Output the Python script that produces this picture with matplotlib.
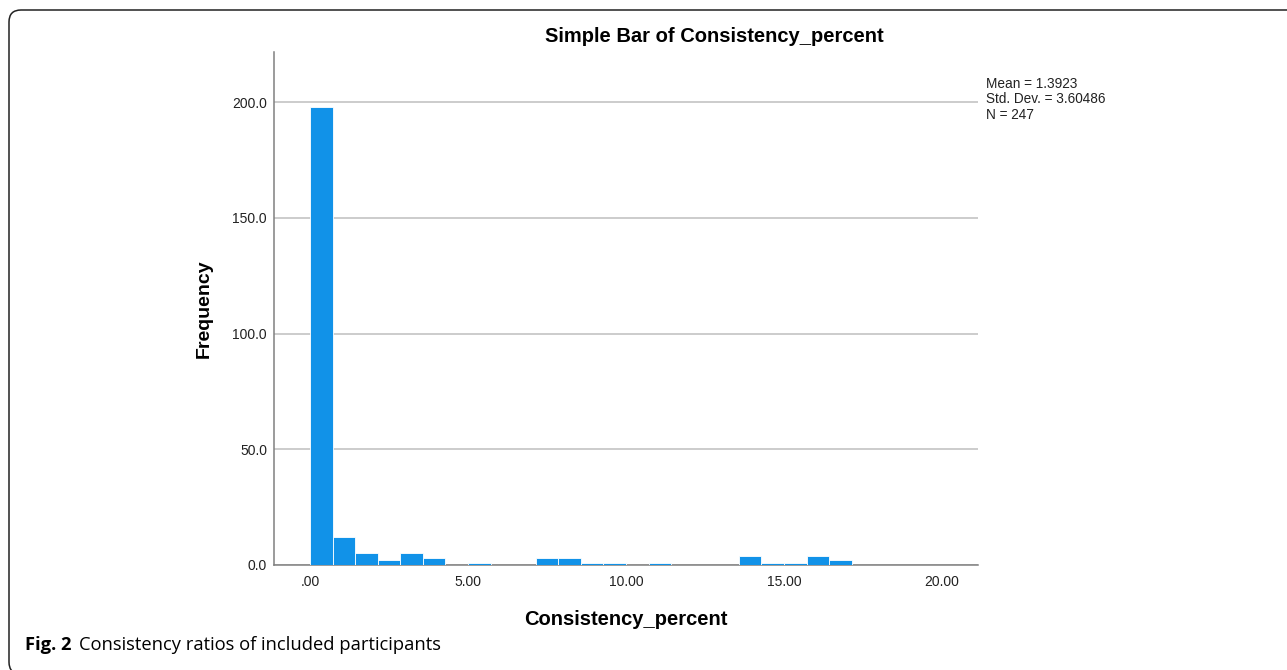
import matplotlib.pyplot as plt
from matplotlib.patches import FancyBboxPatch
from matplotlib.transforms import IdentityTransform

# histogram bins (SPSS binned Consistency_percent, width 5/7)
bin_width = 5 / 7
bin_index = [0, 1, 2, 3, 4, 5, 7, 10, 11, 12, 13, 15, 19, 20, 21, 22, 23]
counts = [198, 12, 5, 2, 5, 3, 1, 3, 3, 1, 1, 1, 4, 1, 1, 4, 2]
x_ticks = [0, 5, 10, 15, 20]
x_tick_labels = [".00", "5.00", "10.00", "15.00", "20.00"]
y_ticks = [0, 50, 100, 150, 200]
y_tick_labels = ["0.0", "50.0", "100.0", "150.0", "200.0"]
stats_text = "Mean = 1.3923\nStd. Dev. = 3.60486\nN = 247"

plt.rcParams["font.family"] = ["Liberation Sans", "DejaVu Sans"]

W, H = 1287, 670
fig = plt.figure(figsize=(W / 100, H / 100), dpi=100)
ax = fig.add_axes([274 / W, 1 - 565 / H, (978 - 274) / W, (565 - 52) / H])

lefts = [k * bin_width for k in bin_index]
ax.bar(lefts, counts, width=bin_width, align="edge", color="#1192e8",
       edgecolor="white", linewidth=0.6, zorder=3)

ax.set_xlim(-1.14, 21.14)
ax.set_ylim(0, 221.6)
ax.set_xticks(x_ticks, x_tick_labels)
ax.set_yticks(y_ticks, y_tick_labels)
ax.tick_params(axis="both", length=0, labelsize=10, colors="#222222")
ax.tick_params(axis="x", pad=7)
ax.tick_params(axis="y", pad=5)
ax.grid(axis="y", color="#c4c4c4", linewidth=1.2, zorder=0)
for s in ["top", "right"]:
    ax.spines[s].set_visible(False)
for s in ["left", "bottom"]:
    ax.spines[s].set_color("#808080")
    ax.spines[s].set_linewidth(1.1)
    ax.spines[s].set_zorder(2)

ax.set_xlabel("Consistency_percent", fontsize=14.5, fontweight="bold", labelpad=15)
ax.set_ylabel("Frequency", fontsize=14, fontweight="bold", labelpad=14)

fig.text(714 / W, 1 - 37 / H, "Simple Bar of Consistency_percent",
         fontsize=14.5, fontweight="bold", ha="center", va="center")
fig.text(986 / W, 1 - 77 / H, stats_text, fontsize=9.8, ha="left", va="top",
         linespacing=1.12, color="#222222")

# caption below the chart
fig.text(25 / W, 1 - 645 / H, "Fig. 2", family="Open Sans", fontweight="bold",
         fontsize=13.2, ha="left", va="center")
fig.text(79 / W, 1 - 645 / H, "Consistency ratios of included participants",
         family="Open Sans", fontsize=13.2, ha="left", va="center")

# rounded frame, open on the right and bottom
frame = FancyBboxPatch((9, -4), 1320, H - 10 + 4,
                       boxstyle="round,pad=0,rounding_size=12",
                       transform=IdentityTransform(), fill=False,
                       edgecolor="#222222", linewidth=1.1)
fig.patches.append(frame)

fig.savefig("out.png", dpi=100)
